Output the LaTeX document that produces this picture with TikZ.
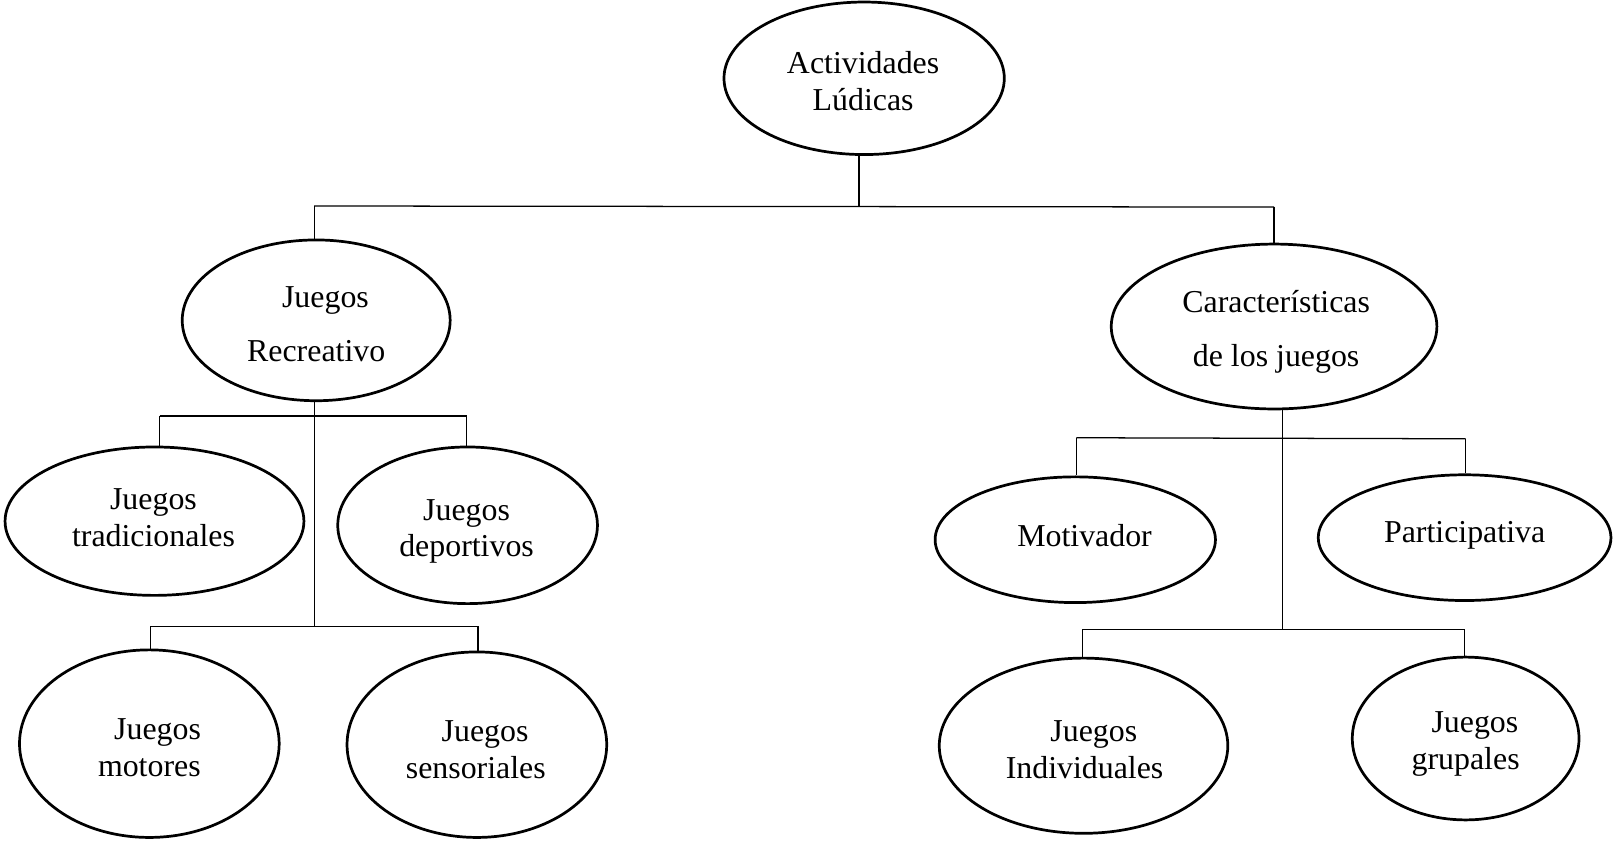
\documentclass[tikz,border=0pt]{standalone}
\usepackage{fontspec}
\setmainfont{Liberation Serif}
\usetikzlibrary{shapes.geometric}
\tikzset{
  ell/.style={draw, ellipse, line width=0.75pt, inner sep=0pt},
  conn/.style={line width=0.35pt},
  lbl/.style={align=center, inner sep=0pt},
  tight/.style={font=\fontsize{8.8}{10.2}\selectfont},
  wide/.style={font=\fontsize{8.8}{14.8}\selectfont}
}
\begin{document}
\begin{tikzpicture}[x=0.01cm, y=-0.01cm]
\useasboundingbox (0,0) rectangle (1568,817);
% ellipses
\node[ell, minimum width=2.72cm, minimum height=1.48cm] (act) at (839,76) {};
\node[ell, minimum width=2.60cm, minimum height=1.56cm] (rec) at (307,311) {};
\node[ell, minimum width=3.16cm, minimum height=1.60cm] (car) at (1237,317) {};
\node[ell, minimum width=2.90cm, minimum height=1.44cm] (trad) at (150,506) {};
\node[ell, minimum width=2.52cm, minimum height=1.52cm] (dep) at (454,510) {};
\node[ell, minimum width=2.72cm, minimum height=1.22cm] (motv) at (1044,524) {};
\node[ell, minimum width=2.84cm, minimum height=1.22cm] (part) at (1422,522) {};
\node[ell, minimum width=2.52cm, minimum height=1.82cm] (moto) at (145,722) {};
\node[ell, minimum width=2.52cm, minimum height=1.80cm] (sens) at (463,723) {};
\node[ell, minimum width=2.80cm, minimum height=1.70cm] (ind) at (1052,724) {};
\node[ell, minimum width=2.20cm, minimum height=1.58cm] (gru) at (1423,717) {};
% labels
\node[lbl, tight] (actT) at (838,79) {Actividades\\Lúdicas};
\node[lbl, wide] (recT) at (307,315) {\hspace*{0.18cm}Juegos\\Recreativo};
\node[lbl, wide] (carT) at (1239,322) {Características\\de los juegos};
\node[lbl, tight] (tradT) at (149,503) {Juegos\\tradicionales};
\node[lbl, tight] (depT) at (453,516) {Juegos\\deportivos};
\node[lbl, tight] (motvT) at (1053,520) {Motivador};
\node[lbl, tight] (partT) at (1422,520) {Participativa};
\node[lbl, tight] (motoT) at (145,726) {\hspace*{0.16cm}Juegos\\motores};
\node[lbl, tight] (sensT) at (462,728) {\hspace*{0.18cm}Juegos\\sensoriales};
\node[lbl, tight] (indT) at (1053,728) {\hspace*{0.18cm}Juegos\\Individuales};
\node[lbl, tight] (gruT) at (1423,722) {\hspace*{0.18cm}Juegos\\grupales};
% junctions
\coordinate (h1M) at (834,200);
\coordinate (h1L) at (305,200);
\coordinate (h1R) at (1237,201);
\coordinate (h2L) at (155,404);
\coordinate (h2R) at (453,404);
\coordinate (h3M) at (305,608);
\coordinate (h3L) at (146,608);
\coordinate (h3R) at (464,608);
\coordinate (h4L) at (1045,425);
\coordinate (h4R) at (1423,426);
\coordinate (h5M) at (1245,611);
\coordinate (h5L) at (1051,611);
\coordinate (h5R) at (1422,611);
% connectors
\draw[conn] (act.south -| h1M) -- (h1M);
\draw[conn] (h1L) -- (h1R);
\draw[conn] (h1L) -- (h1L |- rec.north);
\draw[conn] (h1R) -- (h1R |- car.north);
\draw[conn] (rec.south -| h3M) -- (h3M);
\draw[conn] (h2L) -- (h2R);
\draw[conn] (h2L) -- (h2L |- trad.north);
\draw[conn] (h2R) -- (h2R |- dep.north);
\draw[conn] (h3L) -- (h3R);
\draw[conn] (h3L) -- (h3L |- moto.north);
\draw[conn] (h3R) -- (h3R |- sens.north);
\draw[conn] (car.south -| h5M) -- (h5M);
\draw[conn] (h4L) -- (h4R);
\draw[conn] (h4L) -- (h4L |- motv.north);
\draw[conn] (h4R) -- (h4R |- part.north);
\draw[conn] (h5L) -- (h5R);
\draw[conn] (h5L) -- (h5L |- ind.north);
\draw[conn] (h5R) -- (h5R |- gru.north);
\end{tikzpicture}
\end{document}
